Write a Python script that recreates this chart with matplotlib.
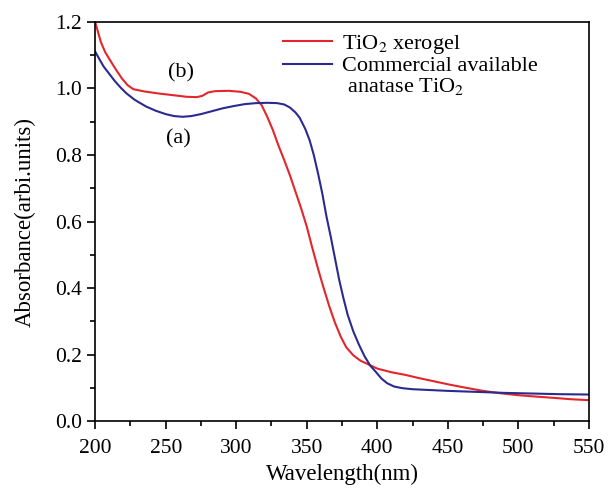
import matplotlib
matplotlib.use("Agg")
import matplotlib.pyplot as plt
from matplotlib.lines import Line2D
from matplotlib.ticker import MultipleLocator, FormatStrFormatter

plt.rcParams['font.family'] = ['Liberation Serif', 'DejaVu Serif']
plt.rcParams['mathtext.fontset'] = 'stix'

# (b) TiO2 xerogel
xerogel_x = [200, 202, 204, 207, 211, 215, 219, 223, 227, 235, 245, 255, 265, 272, 276,
             280, 285, 295, 303, 309, 314, 318, 322, 326, 330, 334, 338, 342, 346, 350,
             354, 358, 362, 366, 370, 374, 378, 383, 388, 394, 400, 410, 420, 430, 440,
             451, 462, 475, 487, 500, 512, 525, 537, 550]
xerogel_y = [1.200, 1.170, 1.140, 1.110, 1.082, 1.055, 1.030, 1.010, 0.998, 0.991, 0.985,
             0.980, 0.975, 0.974, 0.978, 0.988, 0.992, 0.993, 0.990, 0.984, 0.970, 0.950,
             0.915, 0.875, 0.828, 0.785, 0.740, 0.690, 0.640, 0.585, 0.520, 0.458, 0.400,
             0.345, 0.296, 0.255, 0.222, 0.198, 0.182, 0.170, 0.158, 0.147, 0.139, 0.129,
             0.120, 0.110, 0.101, 0.091, 0.084, 0.078, 0.074, 0.070, 0.066, 0.063]

# (a) commercial available anatase TiO2
anatase_x = [200, 203, 206, 210, 214, 218, 222, 228, 236, 243, 250, 256, 262, 268, 275,
             283, 290, 298, 306, 314, 322, 329, 334, 338, 342, 345, 349, 352, 355, 358,
             361, 364, 367, 370, 373, 376, 379, 383, 387, 391, 395, 399, 403, 407, 412,
             418, 425, 435, 450, 470, 490, 510, 530, 550]
anatase_y = [1.111, 1.088, 1.066, 1.044, 1.022, 1.003, 0.986, 0.966, 0.946, 0.933, 0.923,
             0.917, 0.915, 0.917, 0.923, 0.932, 0.940, 0.947, 0.953, 0.956, 0.957, 0.956,
             0.952, 0.943, 0.928, 0.912, 0.878, 0.845, 0.800, 0.745, 0.685, 0.615, 0.555,
             0.490, 0.425, 0.370, 0.320, 0.270, 0.230, 0.195, 0.167, 0.148, 0.128, 0.114,
             0.104, 0.099, 0.096, 0.094, 0.091, 0.088, 0.085, 0.083, 0.081, 0.080]

red = '#e3262b'
blue = '#2b2a8e'
fs_tick = 15.5
fs_lab = 16.5
fs_leg = 16

fig = plt.figure(figsize=(6.14, 4.88), dpi=100)
ax = fig.add_axes([0.155, 0.137, 0.804, 0.818])

ax.plot(xerogel_x, xerogel_y, color=red, lw=1.5)
ax.plot(anatase_x, anatase_y, color=blue, lw=1.5)

ax.set_xlim(200, 550)
ax.set_ylim(0.0, 1.2)
ax.xaxis.set_major_locator(MultipleLocator(50))
ax.xaxis.set_minor_locator(MultipleLocator(25))
ax.yaxis.set_major_locator(MultipleLocator(0.2))
ax.yaxis.set_minor_locator(MultipleLocator(0.1))
ax.yaxis.set_major_formatter(FormatStrFormatter('%.1f'))
ax.tick_params(which='both', direction='out', width=1.2, labelsize=fs_tick,
               top=False, right=False)
ax.tick_params(which='major', length=5.5)
ax.tick_params(which='minor', length=3.5)
ax.tick_params(axis='x', which='major', pad=7.5)
ax.tick_params(axis='y', which='major', pad=4)
for s in ax.spines.values():
    s.set_linewidth(1.2)

ax.set_xlabel('Wavelength(nm)', fontsize=fs_lab, labelpad=4)
ax.set_ylabel('Absorbance(arbi.units)', fontsize=fs_lab, labelpad=14)

ax.text(261, 1.047, '(b)', fontsize=fs_leg, ha='center', va='center')
ax.text(259, 0.848, '(a)', fontsize=fs_leg, ha='center', va='center')

handles = [Line2D([], [], color=red, lw=1.5),
           Line2D([], [], color=blue, lw=1.5),
           Line2D([], [], color='none')]
labels = [r'TiO$_2$ xerogel', 'Commercial available', r' anatase TiO$_2$']
ax.legend(handles, labels, loc='upper left', bbox_to_anchor=(0.381, 0.973),
          frameon=False, fontsize=fs_leg, borderpad=0, borderaxespad=0,
          handlelength=2.2, handletextpad=0.45, labelspacing=0.0)

fig.savefig('out.png', dpi=100)
